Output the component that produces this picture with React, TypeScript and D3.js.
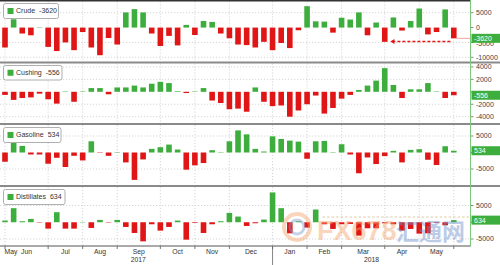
import React from 'react';
import * as d3 from 'd3';

// Weekly EIA inventory changes (thousand barrels), week ending Fridays
const weeks: Date[] = d3.timeFriday.range(new Date(2017, 4, 26), new Date(2018, 4, 26));

const crude = [-6700, 2800, -2000, -2600, 100, -6500, -7900, -5000, -7600, -1500, -6700, -9300, -3500, -5700, 5100, 6200, 5100, -2000, -6200, -2800, -6000, 900, -2500, 2200, 1900, -2000, -3600, -5700, -5900, -6700, -4800, -7600, -5200, -6900, -900, 7200, 2100, 2000, -1700, 3300, 2700, 5100, -2600, 1700, -4800, 3400, -1000, 2200, 6400, -2300, -1500, 6100, -3620];
const cushing = [-500, -1300, -1000, -900, -300, -1200, -1900, 50, -1600, 50, 600, 600, -400, 700, 700, 1000, 700, 1300, 1600, 1400, 100, -200, 50, 600, -1400, -1800, -2800, -2700, -3200, 700, -1600, -2300, -2200, -4000, -3000, -2000, -600, -3500, -2600, -1100, -500, 300, 1000, 1800, 3800, 1100, -1000, 400, 400, 1400, 50, -1000, -556];
const gasoline = [-2800, 2900, 2000, -600, -600, -3400, -1600, -4400, -1000, -2400, 3400, -100, -1000, 0, -3000, -8300, -2100, 1100, 1600, 2400, 900, -5200, -3900, -3200, 700, 100, 3400, 6700, 5500, 1100, 300, 4900, 4100, 3600, 3300, -1900, 3400, 3500, 100, 2500, -600, -6300, -1500, -3500, -1100, 500, -3000, 800, 1000, -2200, -3800, 1900, 534];
const distillates = [500, 4200, 300, 1000, -100, -1900, 3000, -1900, -1900, 100, -1700, 700, -100, 700, -1400, -3200, -5700, -600, -2500, -1400, 500, -5200, -200, -3200, -600, 300, 2800, 1700, -1100, -300, 800, 8900, 4200, -3300, 300, -1600, 3800, -600, -2000, -600, -500, -4000, -1800, -1800, -300, -600, -2500, -2000, -3400, -3300, -200, -900, 634];

const seriesNames = ['Crude', 'Cushing', 'Gasoline', 'Distillates'];
const lastLabels = ['-3620', '-556', '534', '634'];
const crudeTicks = [5000, 0, -5000, -10000];
const cushingTicks = [4000, 2000, 0, -2000, -4000];
const gasolineTicks = [5000, 0, -5000];
const distillatesTicks = [5000, 0, -5000];

const W = 500;
const H = 265;
const PL = 0;
const PR = 470.5;
const AXIS_Y = 246;
const GREEN = '#3dae3d';
const RED = '#e01515';
const FONT = 'Liberation Sans, Arial, sans-serif';

const x = d3.scaleLinear().domain([0, weeks.length - 1]).range([5, 453.8]);
const barW = 5.6;

const panels = [
  { data: crude, ticks: crudeTicks, y: d3.scaleLinear().domain([-10000, 5000]).range([57.3, 12.7]), top: 1.5, bottom: 61.5, box: { x: 3.5, y: 3.5, w: 55, h: 15 } },
  { data: cushing, ticks: cushingTicks, y: d3.scaleLinear().domain([-4000, 4000]).range([116.7, 66.9]), top: 63.5, bottom: 123, box: { x: 3.5, y: 65.5, w: 58.5, h: 14.5 } },
  { data: gasoline, ticks: gasolineTicks, y: d3.scaleLinear().domain([-5000, 5000]).range([169, 136]), top: 125, bottom: 185, box: { x: 3.5, y: 127.5, w: 57.5, h: 15 } },
  { data: distillates, ticks: distillatesTicks, y: d3.scaleLinear().domain([-5000, 5000]).range([239, 205.5]), top: 187, bottom: AXIS_Y, box: { x: 3.5, y: 189.5, w: 61.5, h: 15 } },
];

// month boundaries: last week of each month (discrete axis)
const boundaries: number[] = [];
weeks.forEach((d, i) => {
  if (i === weeks.length - 1 || weeks[i + 1].getMonth() !== d.getMonth()) boundaries.push(i);
});
const fmtMonth = d3.timeFormat('%b');
const monthLabels = boundaries.slice(0, -1).map((b, k) => ({
  label: fmtMonth(weeks[b + 1]),
  x: (x(b) + x(boundaries[k + 1])) / 2,
}));
const yearBoundary = boundaries.find((b) => b + 1 < weeks.length && weeks[b + 1].getMonth() === 0) as number;

export default function App() {
  const yb = x(yearBoundary);
  return (
    <svg width={W} height={H} style={{ position: 'absolute', left: 0, top: 0, background: '#fff' }} fontFamily={FONT}>
      <rect x={0} y={0} width={W} height={H} fill="#fff" />
      {panels.map((p, pi) => {
        const y0 = p.y(0);
        const last = p.data[p.data.length - 1];
        const yl = p.y(last);
        return (
          <g key={pi}>
            {/* vertical grid */}
            {boundaries.map((b, k) => (
              <line key={'v' + k} x1={x(b)} x2={x(b)} y1={p.top} y2={p.bottom} stroke="#c4c4c4" strokeWidth={0.7} strokeDasharray="1.2,1.8" />
            ))}
            {/* horizontal grid */}
            {p.ticks.filter((t) => t !== 0).map((t) => (
              <line key={'h' + t} x1={PL} x2={PR} y1={p.y(t)} y2={p.y(t)} stroke="#c4c4c4" strokeWidth={0.7} strokeDasharray="1.2,1.8" />
            ))}
            {/* bars */}
            {p.data.map((v, i) => (
              <rect key={i} x={x(i) - barW / 2} y={Math.min(p.y(v), y0)} width={barW} height={Math.max(Math.abs(p.y(v) - y0), 0.4)} fill={v >= 0 ? GREEN : RED} />
            ))}
            {/* right axis ticks & labels (labels hidden under the value tag are dropped) */}
            {p.ticks.map((t) => (
              <g key={'t' + t}>
                <line x1={PR} x2={PR + 3} y1={p.y(t)} y2={p.y(t)} stroke="#6a6a6a" strokeWidth={0.8} />
                {Math.abs(p.y(t) - yl) >= 4 && (
                  <text x={476} y={p.y(t) + (Math.abs(p.y(t) - yl) < 8 ? 1.5 : 0)} dy="0.35em" fontSize={7} fill="#444">{t}</text>
                )}
              </g>
            ))}
            {/* last value tag */}
            <rect x={471.5} y={yl - 4.5} width={28.5} height={9} fill={GREEN} />
            <text x={474} y={yl} dy="0.36em" fontSize={7} fill="#fff">{lastLabels[pi]}</text>
            {/* legend */}
            <rect x={p.box.x} y={p.box.y} width={p.box.w} height={p.box.h} rx={2} fill="#fff" stroke="#9a9a9a" strokeWidth={0.8} />
            <rect x={p.box.x + 4} y={p.box.y + p.box.h / 2 - 3} width={6} height={6} fill={GREEN} />
            <text x={p.box.x + 12.5} y={p.box.y + p.box.h / 2} dy="0.35em" fontSize={7} fill="#333">
              {seriesNames[pi]}
              <tspan dx={4}>{lastLabels[pi]}</tspan>
            </text>
          </g>
        );
      })}

      {/* crude connector & annotation arrow */}
      <line x1={x(crude.length - 1) + barW / 2} x2={PR} y1={panels[0].y(-3620)} y2={panels[0].y(-3620)} stroke="#f08a8a" strokeWidth={0.8} />
      <line x1={x(45) - 1} x2={x(51.8)} y1={panels[0].y(-4700)} y2={panels[0].y(-4700)} stroke={RED} strokeWidth={1.4} strokeDasharray="3,2" />
      <path d={`M${x(45) - 3},${panels[0].y(-4700)} l4,-2.5 l0,5 z`} fill={RED} />

      {/* distillates faint dashed line */}
      <line x1={x(36.8)} x2={PR} y1={217} y2={217} stroke="#c8b070" strokeWidth={0.9} strokeDasharray="2.5,2" opacity={0.7} />

      {/* frame lines */}
      <line x1={0} x2={PR} y1={0.8} y2={0.8} stroke="#333" strokeWidth={1.6} />
      {[62.5, 124, 186].map((yy) => (
        <line key={yy} x1={0} x2={W} y1={yy} y2={yy} stroke="#8a8a8a" strokeWidth={2} />
      ))}
      <line x1={PR} x2={PR} y1={0} y2={AXIS_Y} stroke="#7cc87c" strokeWidth={1} />
      <line x1={0} x2={PR} y1={AXIS_Y} y2={AXIS_Y} stroke="#555" strokeWidth={1} />

      {/* x axis */}
      {boundaries.map((b, k) => (
        <line key={'xt' + k} x1={x(b)} x2={x(b)} y1={AXIS_Y} y2={AXIS_Y + 3} stroke="#555" strokeWidth={0.8} />
      ))}
      <text x={4.5} y={254} fontSize={6.8} fill="#333">{fmtMonth(weeks[0])}</text>
      {monthLabels.map((m, k) => (
        <text key={'ml' + k} x={m.x} y={254} textAnchor="middle" fontSize={6.8} fill="#333">{m.label}</text>
      ))}
      <line x1={yb} x2={yb} y1={AXIS_Y} y2={H} stroke="#666" strokeWidth={0.8} />
      <text x={(PL + yb) / 2 + 2} y={262} textAnchor="middle" fontSize={6.8} fill="#333">{d3.timeFormat('%Y')(weeks[0])}</text>
      <text x={(yb + PR) / 2} y={262} textAnchor="middle" fontSize={6.8} fill="#333">{d3.timeFormat('%Y')(weeks[weeks.length - 1])}</text>

      {/* watermark */}
      <g opacity={0.45}>
        <circle cx={297} cy={227} r={13} fill="none" stroke="#f2a46a" strokeWidth={4} />
        <circle cx={297} cy={227} r={7} fill="none" stroke="#7f9fd0" strokeWidth={3} />
        <text x={317} y={240} fontSize={27} fontWeight="bold" fill="#f2a46a" fontFamily={FONT}>FX678</text>
        <text x={396} y={240} fontSize={23} fontWeight="bold" fill="#6f8fc8" fontFamily="Noto Sans CJK SC">汇通网</text>
      </g>
    </svg>
  );
}
